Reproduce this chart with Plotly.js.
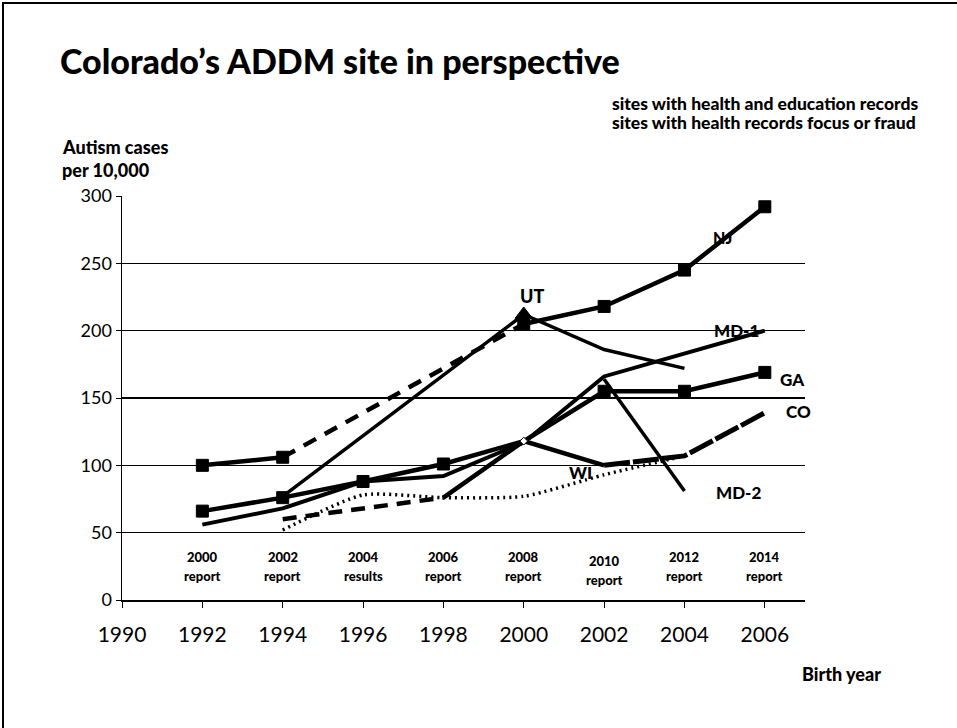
<!DOCTYPE html>
<html><head><meta charset="utf-8">
<script src="https://cdn.plot.ly/plotly-3.0.1.min.js"></script>
<style>
body{margin:0;background:#fff;}
#wrap{position:relative;width:957px;height:728px;}
#chart{width:957px;height:728px;}
#bl{position:absolute;left:2px;top:2px;width:2px;height:726px;background:#000;}
#bt{position:absolute;left:2px;top:2px;width:955px;height:2px;background:#000;}
</style></head>
<body><div id="wrap"><div id="chart"></div><div id="bl"></div><div id="bt"></div></div>
<script>
// ---- data ----
const NJ_years = [1992, 1994, 2000, 2002, 2004, 2006];
const NJ_vals  = [100, 106, 205, 218, 245, 292];
const UT_years = [1994, 2000, 2002, 2004];
const UT_vals  = [77, 212, 186, 172];
const GA_years = [1992, 1994, 1996, 1998, 2000, 2002, 2004, 2006];
const GA_vals  = [66, 76, 88, 101, 118, 155, 155, 169];
const MD1_years = [1992, 1994, 1996, 1998, 2000, 2002, 2006];
const MD1_vals  = [56, 68, 88, 92, 117, 166, 200];
const MD2_years = [2002, 2004];
const MD2_vals  = [164, 81];
const CO_years = [1994, 1996, 1998, 2000, 2002, 2004, 2006];
const CO_vals  = [60, 68, 76, 118, 100, 107, 139];
const WI_years = [1994, 1996, 1998, 2000, 2002, 2004];
const WI_vals  = [52, 78, 76, 77, 93, 107];
const reportYears = ['2000', '2002', '2004', '2006', '2008', '2010', '2012', '2014'];
const reportWords = ['report', 'report', 'results', 'report', 'report', 'report', 'report', 'report'];
const reportBirth = [1992, 1994, 1996, 1998, 2000, 2002, 2004, 2006];
const xTicks = [1990, 1992, 1994, 1996, 1998, 2000, 2002, 2004, 2006];

// ---- helpers ----
const FONT = 'Lato, "Open Sans", sans-serif';
function seg(xs, ys, i0, i1, line) {
  return {
    x: xs.slice(i0, i1 + 1), y: ys.slice(i0, i1 + 1),
    type: 'scatter', mode: 'lines', line: line, hoverinfo: 'skip',
    showlegend: false, cliponaxis: false
  };
}
function marks(xs, ys, idx, sym, size, color, lc) {
  return {
    x: idx.map(i => xs[i]), y: idx.map(i => ys[i]), type: 'scatter', mode: 'markers',
    marker: {symbol: sym, size: size, color: color || '#000', line: {color: lc || '#000', width: 1}},
    showlegend: false, cliponaxis: false, hoverinfo: 'skip'
  };
}
const solid = w => ({color: '#000', width: w, dash: 'solid'});

const traces = [
  seg(WI_years, WI_vals, 0, WI_vals.length - 1, {color: '#000', width: 3.5, dash: '2px,4px', shape: 'spline', smoothing: 0.6}),
  seg(CO_years, CO_vals, 0, 2, {color: '#000', width: 4.5, dash: '14px,9px'}),
  seg(CO_years, CO_vals, 2, 4, solid(4.5)),
  seg(CO_years, CO_vals, 4, 6, {color: '#000', width: 5, dash: '26px,3px'}),
  seg(MD1_years, MD1_vals, 0, MD1_vals.length - 1, solid(4)),
  seg(MD2_years, MD2_vals, 0, 1, solid(3.5)),
  seg(GA_years, GA_vals, 0, GA_vals.length - 1, solid(4.5)),
  marks(GA_years, GA_vals, [0, 1, 2, 3, 5, 6, 7], 'square', 12),
  seg(UT_years, UT_vals, 0, UT_vals.length - 1, solid(3.5)),
  seg(NJ_years, NJ_vals, 0, 1, solid(4.5)),
  seg(NJ_years, NJ_vals, 1, 2, {color: '#000', width: 4.5, dash: '14px,10px'}),
  seg(NJ_years, NJ_vals, 2, NJ_vals.length - 1, solid(4.5)),
  marks(NJ_years, NJ_vals, [0, 1, 2, 3, 4, 5], 'square', 12),
  marks(UT_years, UT_vals, [1], 'triangle-up', 15),
  marks(CO_years, CO_vals, [3], 'diamond', 6, '#fff', '#000')
];

const L = 122, R = 805, T = 196, B = 600;
const px = x => (x - L) / (R - L);
const py = y => (B - y) / (B - T);

const ann = [];
function txt(x, y, text, size, xanchor, ref) {
  ann.push({
    x: x, y: y, xref: ref ? 'x' : 'paper', yref: ref ? 'y' : 'paper',
    text: text, showarrow: false,
    xanchor: xanchor || 'center', yanchor: 'middle',
    font: {family: FONT, size: size, color: '#000', weight: 900}
  });
}
txt(2000.2, 226, 'UT', 18, 'center', true);
txt(2004.95, 269, 'NJ', 16, 'center', true);
txt(2005.3, 200, 'MD-1', 17, 'center', true);
txt(2006.7, 164, 'GA', 17, 'center', true);
txt(2006.85, 140, 'CO', 17, 'center', true);
txt(2001.4, 95, 'WI', 17, 'center', true);
txt(2005.35, 80, 'MD-2', 17, 'center', true);
reportYears.forEach((r, i) => {
  const off = (r === '2010') ? -3 : 0;
  txt(reportBirth[i], 32 + off, r, 13, 'center', true);
  txt(reportBirth[i], 18 + off, reportWords[i], 13, 'center', true);
});
txt(px(60), py(147), 'Autism cases', 18, 'left');
txt(px(60), py(170), 'per 10,000', 18, 'left');
txt(px(800), py(674), 'Birth year', 18, 'left');
txt(px(610), py(103), 'sites with health and education records', 17.5, 'left');
txt(px(610), py(122), 'sites with health records focus or fraud', 17.5, 'left');

const layout = {
  width: 957, height: 728,
  margin: {l: L, r: 957 - R, t: T, b: 728 - B, pad: 0},
  paper_bgcolor: '#fff', plot_bgcolor: '#fff',
  title: {text: 'Colorado\u2019s ADDM site in perspective', font: {family: FONT, size: 34, color: '#000', weight: 900},
          xref: 'container', yref: 'container', x: 60 / 957, xanchor: 'left', y: 1 - 62 / 728, yanchor: 'middle'},
  xaxis: {range: [1990, 2007], tickvals: xTicks, ticktext: xTicks.map(String),
          showgrid: false, zeroline: false, showline: true, linecolor: '#000', linewidth: 1.5,
          ticks: 'outside', ticklen: 6, tickcolor: '#000', ticklabelstandoff: 9,
          tickfont: {family: FONT, size: 21, color: '#000'}},
  yaxis: {range: [0, 300], dtick: 50, showgrid: true, gridcolor: '#000', gridwidth: 1.3,
          zeroline: false, showline: true, linecolor: '#000', linewidth: 1.5,
          ticks: 'outside', ticklen: 5, tickcolor: '#000',
          tickfont: {family: FONT, size: 18, color: '#000'}},
  annotations: ann,
  showlegend: false
};
Plotly.newPlot('chart', traces, layout, {displayModeBar: false, staticPlot: true});
</script></body></html>
